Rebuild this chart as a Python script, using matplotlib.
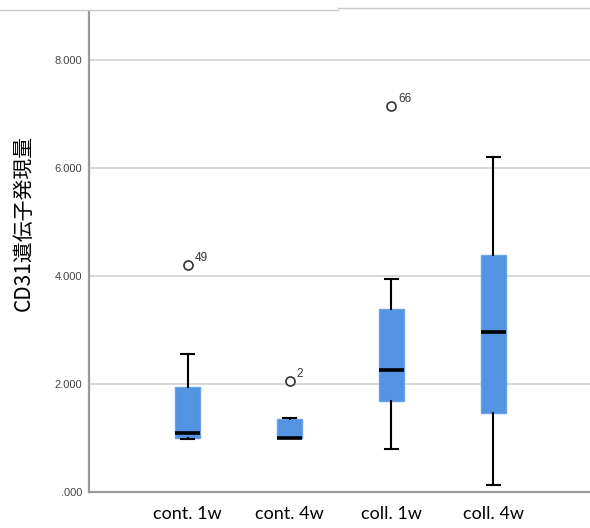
import matplotlib
matplotlib.use("Agg")
import matplotlib.pyplot as plt
from matplotlib.lines import Line2D

# data
groups = ["cont. 1w", "cont. 4w", "coll. 1w", "coll. 4w"]
q1 = [1.01, 1.00, 1.69, 1.47]
med = [1.10, 1.00, 2.27, 2.96]
q3 = [1.94, 1.36, 3.40, 4.39]
whislo = [0.98, 1.00, 0.80, 0.135]
whishi = [2.55, 1.38, 3.94, 6.20]
fliers = [[4.21], [2.05], [7.15], []]
flier_ids = [["49"], ["2"], ["66"], []]

yticks = [0, 2, 4, 6, 8]
ytick_labels = [".000", "2.000", "4.000", "6.000", "8.000"]

fig = plt.figure(figsize=(5.9, 5.28), dpi=100)
ax = fig.add_axes([0.1508, 0.0676, 0.8492, 0.9091])

stats = []
for i in range(len(groups)):
    stats.append({"med": med[i], "q1": q1[i], "q3": q3[i],
                  "whislo": whislo[i], "whishi": whishi[i],
                  "fliers": fliers[i], "label": groups[i]})

pos = [1, 2, 3, 4]
ax.bxp(stats, positions=pos, widths=0.25, patch_artist=True,
       boxprops=dict(facecolor="#5294e2", edgecolor="#6aa3e8", linewidth=1),
       medianprops=dict(color="black", linewidth=2.6, solid_capstyle="butt"),
       whiskerprops=dict(color="black", linewidth=1.5),
       capprops=dict(color="black", linewidth=1.5),
       capwidths=0.13,
       flierprops=dict(marker="o", markerfacecolor="white", markeredgecolor="#333333",
                       markersize=6.5, markeredgewidth=1.2))

for i, (vals, ids) in enumerate(zip(fliers, flier_ids)):
    for v, t in zip(vals, ids):
        ax.annotate(t, (pos[i], v), xytext=(5, 3), textcoords="offset points",
                    fontsize=8.5, color="#333333", family="Liberation Sans")

ax.set_xlim(0.03, 4.95)
ax.set_ylim(0, 8.88)
ax.set_yticks(yticks)
ax.set_yticklabels(ytick_labels, fontsize=8, color="#444444", family="Liberation Sans")
ax.set_xticks(pos)
ax.set_xticklabels(groups, fontsize=13, family="Lato", color="black")
ax.tick_params(axis="y", length=0, pad=5)
ax.tick_params(axis="x", length=0, pad=10)

ax.grid(axis="y", color="#d4d4d4", linewidth=1.3)
ax.set_axisbelow(True)
for s in ["top", "right"]:
    ax.spines[s].set_visible(False)
for s in ["left", "bottom"]:
    ax.spines[s].set_color("#9a9a9a")
    ax.spines[s].set_linewidth(1.6)

fig.text(0.040, 0.578, "CD31遺伝子発現量", rotation=90, fontsize=15,
         family=["Noto Sans CJK JP", "DejaVu Sans"], ha="center", va="center")

# thin border line across the top of the screenshot
fig.add_artist(Line2D([0, 0.573], [0.981, 0.981], color="#c8c8c8", linewidth=1))
fig.add_artist(Line2D([0.573, 1], [0.985, 0.985], color="#c8c8c8", linewidth=1))

fig.savefig("out.png", dpi=100)
